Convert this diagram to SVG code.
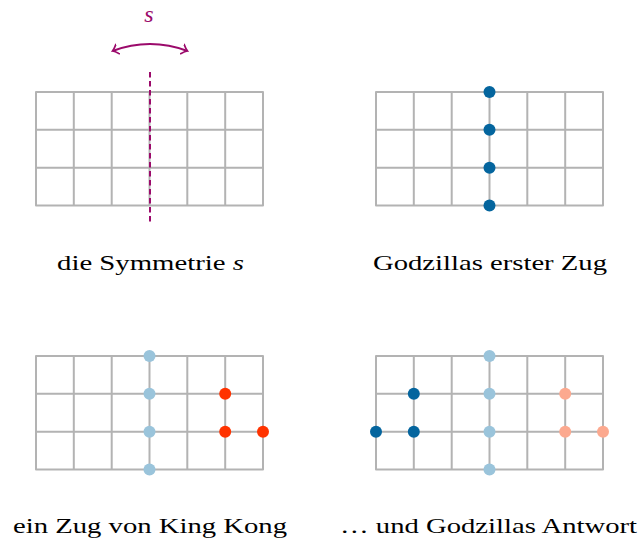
<svg xmlns="http://www.w3.org/2000/svg" width="643" height="540" viewBox="0 0 643 540">
<defs>
<style>
.grid{fill:none;stroke:#b3b3b3;stroke-width:2;stroke-linecap:round;stroke-linejoin:round}
.lbl{font-family:"Liberation Serif","DejaVu Serif",serif;font-size:22px;fill:#000;text-anchor:middle}
.dk{fill:#04659e}
.lt{fill:#9ac4db}
.rd{fill:#ff3300}
.sa{fill:#fca98f}
.pur{stroke:#9b0a6b;fill:none;stroke-width:2}
</style>
<path id="g" class="grid" d="M0,0H227V113.5H0Z M37.8,0V113.5 M75.7,0V113.5 M113.5,0V113.5 M151.3,0V113.5 M189.2,0V113.5 M0,37.8H227 M0,75.7H227"/>
<marker id="ah" viewBox="-6 -6 8 12" markerWidth="8" markerHeight="12" refX="0" refY="0" orient="auto" markerUnits="userSpaceOnUse">
<path d="M-5.5,-5 Q-2,-1 0,0 Q-2,1 -5.5,5" fill="none" stroke="#9b0a6b" stroke-width="1.7" stroke-linecap="round"/>
</marker>
</defs>
<g id="panel1">
<use href="#g" x="36" y="92"/>
<path class="pur" d="M150,72V225" stroke-dasharray="5.5,3.5"/>
<path class="pur" d="M150,44 Q131,44 112.5,51" marker-end="url(#ah)"/>
<path class="pur" d="M150,44 Q169,44 187.5,51" marker-end="url(#ah)"/>
<text x="149" y="22" font-family="'Liberation Serif',serif" font-style="italic" font-size="24" fill="#9b0a6b" text-anchor="middle">s</text>
<text class="lbl" x="150.5" y="270" textLength="187" lengthAdjust="spacingAndGlyphs">die Symmetrie <tspan font-style="italic">s</tspan></text>
</g>
<g id="panel2">
<use href="#g" x="376" y="92"/>
<circle class="dk" cx="489.5" cy="92" r="6"/>
<circle class="dk" cx="489.5" cy="129.8" r="6"/>
<circle class="dk" cx="489.5" cy="167.7" r="6"/>
<circle class="dk" cx="489.5" cy="205.5" r="6"/>
<text class="lbl" x="490" y="270" textLength="234" lengthAdjust="spacingAndGlyphs">Godzillas erster Zug</text>
</g>
<g id="panel3">
<use href="#g" x="36" y="356"/>
<circle class="lt" cx="149.5" cy="356" r="6"/>
<circle class="lt" cx="149.5" cy="393.8" r="6"/>
<circle class="lt" cx="149.5" cy="431.7" r="6"/>
<circle class="lt" cx="149.5" cy="469.5" r="6"/>
<circle class="rd" cx="225.2" cy="393.8" r="6"/>
<circle class="rd" cx="225.2" cy="431.7" r="6"/>
<circle class="rd" cx="263" cy="431.7" r="6"/>
<text class="lbl" x="150" y="533" textLength="274" lengthAdjust="spacingAndGlyphs">ein Zug von King Kong</text>
</g>
<g id="panel4">
<use href="#g" x="376" y="356"/>
<circle class="lt" cx="489.5" cy="356" r="6"/>
<circle class="lt" cx="489.5" cy="393.8" r="6"/>
<circle class="lt" cx="489.5" cy="431.7" r="6"/>
<circle class="lt" cx="489.5" cy="469.5" r="6"/>
<circle class="sa" cx="565.2" cy="393.8" r="6"/>
<circle class="sa" cx="565.2" cy="431.7" r="6"/>
<circle class="sa" cx="603" cy="431.7" r="6"/>
<circle class="dk" cx="413.8" cy="393.8" r="6"/>
<circle class="dk" cx="413.8" cy="431.7" r="6"/>
<circle class="dk" cx="376" cy="431.7" r="6"/>
<text class="lbl" x="488.5" y="533" textLength="297" lengthAdjust="spacingAndGlyphs">… und Godzillas Antwort</text>
</g>
</svg>
